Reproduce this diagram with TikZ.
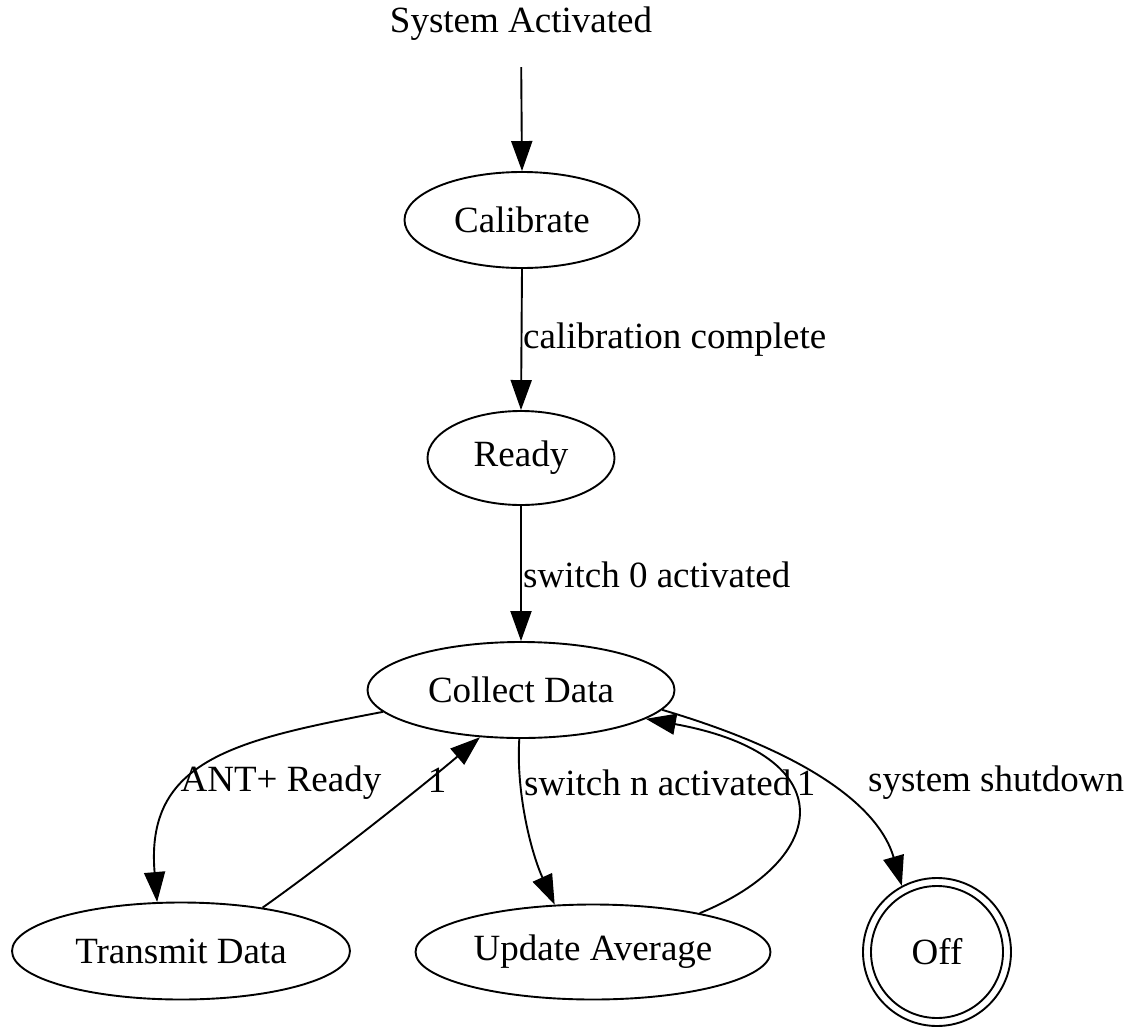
\documentclass[tikz,border=0pt]{standalone}
\usepackage{fontspec}
\setmainfont{Liberation Serif}
\usetikzlibrary{arrows.meta,shapes.geometric}
\begin{document}
\begin{tikzpicture}[x=1pt,y=-1pt,
  every node/.style={font=\fontsize{37}{44}\selectfont},
  state/.style={ellipse,draw,line width=1.9pt,inner sep=0pt},
  final/.style={circle,draw,line width=1.9pt,inner sep=0pt},
  arr/.style={line width=1.9pt,-{Triangle[length=30pt,width=21pt]}},
  lbl/.style={inner sep=0pt}]
\useasboundingbox (0,0) rectangle (1136,1028);

% states
\node[lbl] (sys) at (521,24) {System Activated};
\node[state,minimum width=235,minimum height=96] (cal) at (522,220) {Calibrate};
\node[state,minimum width=187,minimum height=94] (rdy) at (521,458) {Ready};
\node[state,minimum width=307,minimum height=96] (col) at (521,690) {Collect Data};
\node[state,minimum width=338,minimum height=97] (trn) at (181,951) {Transmit Data};
\node[state,minimum width=355,minimum height=95] (upd) at (593,952) {Update Average};
\node[final,minimum size=148] (off) at (937,952) {};
\node[final,minimum size=132] (offin) at (off) {Off};

% main sequence
\draw[arr,shorten <=26pt] (sys.south) -- (cal.north);
\draw[arr] (cal.south) -- (rdy.north);
\draw[arr] (rdy.south) -- (col.north);

% loops from Collect Data
\draw[arr] (col.189) .. controls (235,740) and (145,760) .. (trn.116);
\draw[arr] (trn.28) .. controls (330,860) and (430,780) .. (col.229);
\draw[arr] (col.268) .. controls (516,790) and (530,850) .. (upd.129);
\draw[arr] (upd.20) .. controls (830,860) and (845,755) .. (col.-13);
\draw[arr] (col.-8) .. controls (815,755) and (880,810) .. (off.118);

% transition labels
\node[lbl,anchor=west] (l1) at (523,340) {calibration complete};
\node[lbl,anchor=west] (l2) at (523,575) {switch 0 activated};
\node[lbl] (l3) at (281,783) {ANT+ Ready};
\node[lbl] (l4) at (437,780) {1};
\node[lbl,anchor=west] (l5) at (524,783) {switch n activated};
\node[lbl] (l6) at (806,783) {1};
\node[lbl,anchor=west] (l7) at (868,783) {system shutdown};
\end{tikzpicture}
\end{document}
